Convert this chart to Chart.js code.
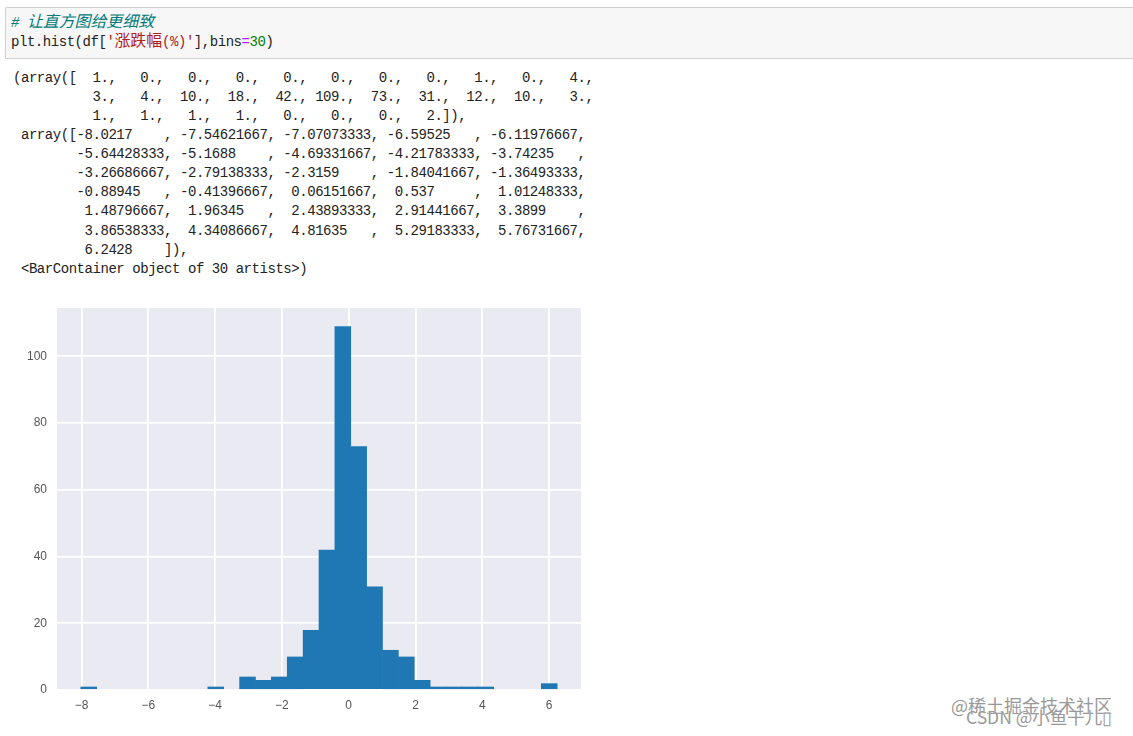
<!DOCTYPE html>
<html>
<head>
<meta charset="utf-8">
<script src="https://cdn.jsdelivr.net/npm/chart.js@4"></script>
<style>
    html, body { margin: 0; padding: 0; background: #fff; width: 1133px; height: 736px; overflow: hidden; }
    #cell { position: absolute; left: 5px; top: 7px; width: 1128px; height: 52px; box-sizing: border-box;
        background: #f7f7f7; border: 1px solid #cfcfcf; border-right: 0; border-radius: 2px 0 0 2px; }
    pre { position: absolute; margin: 0; font-family: "Liberation Mono", monospace; font-size: 14px;
        letter-spacing: -0.45px; line-height: 19.07px; color: #222; }
    .cjk { font-family: "Noto Sans CJK SC", sans-serif; font-size: 15.9px; letter-spacing: 0; line-height: 0; }
    .comment { color: #007b7b; font-style: italic; }
    .str { color: #b02020; }
    .op { color: #aa22ff; }
    .num { color: #008000; }
    #chartBox { position: absolute; left: 25px; top: 300px; }
    .mark { position: absolute; font-family: "Noto Sans CJK SC", sans-serif; color: #999;
        text-shadow: 0 0 1px #fff; white-space: nowrap; line-height: 1; }
</style>
</head>
<body>
<div id="cell"></div>
<pre style="left:11px;top:14px"><span class="comment"># <span class="cjk">让直方图给更细致</span></span>
plt.hist(df[<span class="str">'<span class="cjk">涨跌幅</span>(%)'</span>],bins<span class="op">=</span><span class="num">30</span>)</pre>
<pre id="out" style="left:13px;top:69px">(array([  1.,   0.,   0.,   0.,   0.,   0.,   0.,   0.,   1.,   0.,   4.,
          3.,   4.,  10.,  18.,  42., 109.,  73.,  31.,  12.,  10.,   3.,
          1.,   1.,   1.,   1.,   0.,   0.,   0.,   2.]),
 array([-8.0217    , -7.54621667, -7.07073333, -6.59525   , -6.11976667,
        -5.64428333, -5.1688    , -4.69331667, -4.21783333, -3.74235   ,
        -3.26686667, -2.79138333, -2.3159    , -1.84041667, -1.36493333,
        -0.88945   , -0.41396667,  0.06151667,  0.537     ,  1.01248333,
         1.48796667,  1.96345   ,  2.43893333,  2.91441667,  3.3899    ,
         3.86538333,  4.34086667,  4.81635   ,  5.29183333,  5.76731667,
         6.2428    ]),
 &lt;BarContainer object of 30 artists&gt;)</pre>
<div id="chartBox"><canvas id="hist" width="560" height="420"></canvas></div>
<div class="mark" style="left:951px;top:696px;font-size:18px">@稀土掘金技术社区</div>
<div class="mark" style="left:966px;top:708px;font-size:17.5px">CSDN @小鱼干儿▯</div>
<script>
const binEdges = [-8.0217, -7.54621667, -7.07073333, -6.59525, -6.11976667,
    -5.64428333, -5.1688, -4.69331667, -4.21783333, -3.74235,
    -3.26686667, -2.79138333, -2.3159, -1.84041667, -1.36493333,
    -0.88945, -0.41396667, 0.06151667, 0.537, 1.01248333,
    1.48796667, 1.96345, 2.43893333, 2.91441667, 3.3899,
    3.86538333, 4.34086667, 4.81635, 5.29183333, 5.76731667, 6.2428];
const binCounts = [1, 0, 0, 0, 0, 0, 0, 0, 1, 0, 4,
    3, 4, 10, 18, 42, 109, 73, 31, 12, 10, 3,
    1, 1, 1, 1, 0, 0, 0, 2];
const xTicks = [-8, -6, -4, -2, 0, 2, 4, 6];
const yTicks = [0, 20, 40, 60, 80, 100];

const points = binCounts.map((c, i) => ({ x: (binEdges[i] + binEdges[i + 1]) / 2, y: c }));

// grey plot background like seaborn
const plotBackground = {
    id: 'plotBackground',
    beforeDraw(chart) {
        const a = chart.chartArea;
        chart.ctx.save();
        chart.ctx.fillStyle = '#e9eaf2';
        chart.ctx.fillRect(a.left, a.top, a.right - a.left, a.bottom - a.top);
        chart.ctx.restore();
    }
};

const tickFont = { family: '"Liberation Sans", Arial, sans-serif', size: 12 };

new Chart(document.getElementById('hist'), {
    type: 'bar',
    data: {
        datasets: [{
            data: points,
            backgroundColor: '#1f77b4',
            borderWidth: 0,
            categoryPercentage: 1,
            barPercentage: 1.04 // small overlap, no seams between the bins
        }]
    },
    options: {
        responsive: false,
        animation: false,
        layout: { padding: { top: 8, right: 4, left: 0, bottom: 0 } },
        plugins: { legend: { display: false }, tooltip: { enabled: false } },
        scales: {
            x: {
                type: 'linear',
                offset: false,
                min: -8.735,
                max: 6.956,
                afterBuildTicks: (s) => { s.ticks = xTicks.map(v => ({ value: v })); },
                afterFit: (s) => { s.height = 30; s.paddingLeft = 0; s.paddingRight = 0; },
                grid: { offset: false, color: '#ffffff', lineWidth: 1.8, drawTicks: false },
                border: { display: false },
                ticks: {
                    color: '#555',
                    font: tickFont,
                    padding: 8,
                    maxRotation: 0,
                    callback: (v) => String(v).replace('-', '\u2212')
                }
            },
            y: {
                min: 0,
                max: 114.45,
                afterBuildTicks: (s) => { s.ticks = yTicks.map(v => ({ value: v })); },
                afterFit: (s) => { s.width = 32; s.paddingTop = 0; s.paddingBottom = 0; },
                grid: { color: '#ffffff', lineWidth: 1.8, drawTicks: false },
                border: { display: false },
                ticks: { color: '#555', font: tickFont, padding: 10 }
            }
        }
    },
    plugins: [plotBackground]
});
</script>
</body>
</html>
